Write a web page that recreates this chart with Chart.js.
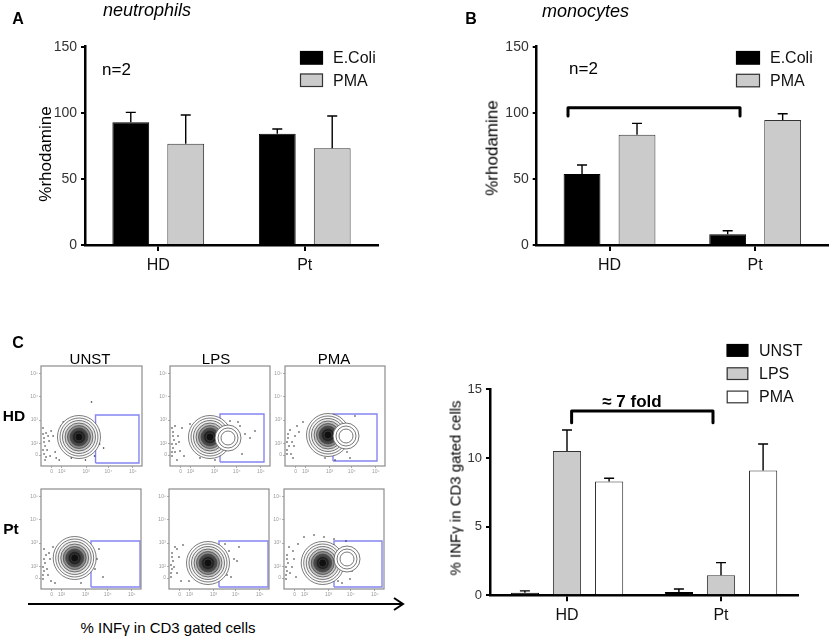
<!DOCTYPE html>
<html><head><meta charset="utf-8">
<script src="https://cdn.jsdelivr.net/npm/chart.js@4.4.1/dist/chart.umd.min.js"></script>
<style>
html,body{margin:0;padding:0;background:#fff;width:835px;height:641px;overflow:hidden;position:relative}
.w{position:absolute}
.t{position:absolute;white-space:nowrap;font-family:"Liberation Sans",Arial,sans-serif;color:#000;line-height:1}
.cc{transform:translate(-50%,-50%)}
.rot{transform:translate(-50%,-50%) rotate(-90deg)}
</style></head><body>
<div class="w" id="wA" style="left:0;top:0;width:420px;height:290px"><canvas id="cA"></canvas></div>
<div class="w" id="wB" style="left:420px;top:0;width:415px;height:290px"><canvas id="cB"></canvas></div>
<div class="w" id="wC" style="left:440px;top:300px;width:395px;height:341px"><canvas id="cC"></canvas></div>
<div id="flows"></div>

<div class="t cc" style="left:18px;top:19px;font-weight:bold;font-size:16px">A</div>
<div class="t" style="left:103px;top:1px;font-style:italic;font-size:18px">neutrophils</div>
<div class="t cc" style="left:471px;top:19px;font-weight:bold;font-size:16px">B</div>
<div class="t" style="left:542px;top:2px;font-style:italic;font-size:18px">monocytes</div>
<div class="t" style="left:102px;top:61px;font-size:17px">n=2</div>
<div class="t" style="left:569px;top:60px;font-size:17px">n=2</div>
<div class="t rot" style="left:45px;top:154px;font-size:17px">%rhodamine</div>
<div class="t rot" style="left:492px;top:148px;font-size:17px">%rhodamine</div>
<div class="t rot" style="left:455px;top:488px;font-size:15px">% INFγ in CD3 gated cells</div>
<div class="t cc" style="left:632px;top:401px;font-weight:bold;font-size:17px">≈ 7 fold</div>
<div class="t cc" style="left:18px;top:343px;font-weight:bold;font-size:16px">C</div>
<div class="t cc" style="left:90px;top:358px;font-size:15px">UNST</div>
<div class="t cc" style="left:216px;top:358px;font-size:15px">LPS</div>
<div class="t cc" style="left:334px;top:358px;font-size:15px">PMA</div>
<div class="t cc" style="left:14px;top:416px;font-weight:bold;font-size:15.5px">HD</div>
<div class="t cc" style="left:11px;top:529px;font-weight:bold;font-size:15.5px">Pt</div>
<div class="t cc" style="left:168px;top:627px;font-size:15px">% INFγ in CD3 gated cells</div>
<svg class="w" style="left:0;top:0" width="835" height="641">
  <line x1="28" y1="604" x2="402" y2="604" stroke="#000" stroke-width="2"/>
  <polyline points="394,598 403,604 394,610" fill="none" stroke="#000" stroke-width="2"/>
</svg>

<script>
// ---------- data ----------
const groups = ['HD', 'Pt'];
const rhodTicks = [0, 50, 100, 150];
const ifnTicks = [0, 5, 10, 15];

const neutEColi = [92.8, 84.2];
const neutEColiSD = [7.5, 3.5];
const neutPMA = [76.6, 73.1];
const neutPMASD = [21.7, 24.5];

const monoEColi = [53.7, 8.1];
const monoEColiSD = [6.8, 2.7];
const monoPMA = [83.4, 94.5];
const monoPMASD = [8.6, 4.8];

const ifnUNST = [0.19, 0.24];
const ifnUNSTSD = [0.13, 0.22];
const ifnLPS = [10.5, 1.46];
const ifnLPSSD = [1.54, 0.92];
const ifnPMA = [8.28, 9.08];
const ifnPMASD = [0.24, 1.94];

// flow cytometry panels: order HD-UNST, HD-LPS, HD-PMA, Pt-UNST, Pt-LPS, Pt-PMA
const flowTickPosX = [10.6, 20.5, 44.6, 66.7, 90.8];
const flowTickPosY = [11, 22.7, 46, 69.3, 92];
const flowTickLabels = ['0', '10²', '10³', '10⁴', '10⁵'];
const gates = [[54,97,3,51],[50,94,4,52],[48,92,5,52],[50,99,2,48],[50,99,2,48],[50,98,2,48]];
const cores = [[37.6,29],[40,29],[43,31],[33.7,31],[39,26],[38.7,26]];
const lobes = [null,[58,28],[61,30],null,null,[63,30]];
const dots = [
 [[3,12],[4,20],[3,28],[5,33],[2,38],[6,16],[8,25],[10,35],[12,30],[9,10],[4,6],[15,8],[56,30],[58,22],[57,36],[62,18],[50,64],[20,40],[2,16],[3,24],[2,32],[5,9],[7,30],[14,14],[18,6],[22,44],[30,8],[44,6],[53,10],[55,26]],
 [[2,10],[3,18],[4,26],[3,34],[5,40],[6,22],[8,30],[10,15],[12,38],[7,6],[60,45],[70,40],[75,32],[80,28],[65,20],[72,12],[85,35],[2,14],[2,22],[3,30],[2,38],[5,14],[9,24],[14,10],[20,42],[30,8],[45,6],[68,44]],
 [[2,12],[4,20],[3,28],[5,36],[7,24],[10,30],[12,40],[8,8],[55,45],[58,40],[62,14],[70,50],[65,8],[2,16],[2,24],[3,32],[6,12],[9,20],[14,34],[18,44],[40,8],[50,6],[68,20]],
 [[2,10],[3,18],[4,26],[5,34],[3,40],[7,14],[9,30],[12,42],[10,8],[56,30],[58,40],[54,20],[62,12],[2,14],[2,22],[3,30],[6,20],[8,36],[14,6],[20,46],[40,6],[50,26]],
 [[2,12],[3,20],[4,28],[3,36],[6,42],[8,16],[10,32],[12,8],[56,45],[60,38],[65,30],[58,20],[70,42],[62,12],[68,28],[2,16],[2,24],[3,32],[5,22],[8,40],[14,44],[20,8],[42,6],[58,14]],
 [[2,10],[3,18],[4,26],[3,34],[5,42],[8,22],[10,30],[14,45],[20,52],[30,54],[70,40],[68,18],[74,30],[62,48],[58,6],[2,14],[2,22],[3,30],[6,16],[9,38],[12,12],[40,52],[50,50],[54,8],[66,10]]
];

// ---------- styles / layout ----------
const F = '"Liberation Sans", Arial, sans-serif';
const ringRadii = [21.5, 19, 16.5, 14, 11.5, 9, 6.5, 4];
const ringFills = ['#ffffff','#f8f8f8','#e8e8e8','#c4c4c4','#8a8a8a','#484848','#222222','#101010'];
const lobeRadii = [13, 10, 7];
const flowBoxes = [[41,366,101,100],[170,366,100,100],[285,366,100,100],[41,489,100,100],[169,489,100,100],[284,489,100,100]];

const decoPlugin = {
  id: 'deco',
  afterDatasetsDraw(chart, args, o) {
    const ctx = chart.ctx;
    if (o.errors) {
      const ys = chart.scales.y;
      chart.data.datasets.forEach((ds, i) => {
        if (!ds.sd) return;
        chart.getDatasetMeta(i).data.forEach((bar, j) => {
          const top = ys.getPixelForValue(ds.data[j] + ds.sd[j]);
          ctx.save(); ctx.strokeStyle = '#000'; ctx.lineWidth = o.errors.lw;
          ctx.beginPath();
          ctx.moveTo(bar.x, bar.y); ctx.lineTo(bar.x, top);
          ctx.moveTo(bar.x - o.errors.cap, top); ctx.lineTo(bar.x + o.errors.cap, top);
          ctx.stroke(); ctx.restore();
        });
      });
    }
    if (o.bracket) {
      const b = o.bracket, xs = chart.scales.x, ys = chart.scales.y;
      const x0 = xs.getPixelForValue(b.x0), x1 = xs.getPixelForValue(b.x1);
      const y = ys.getPixelForValue(b.y), yd = ys.getPixelForValue(b.drop);
      ctx.save(); ctx.strokeStyle = '#000'; ctx.lineWidth = b.lw; ctx.lineJoin = 'round'; ctx.lineCap = 'round';
      ctx.beginPath(); ctx.moveTo(x0, yd); ctx.lineTo(x0, y); ctx.lineTo(x1, y); ctx.lineTo(x1, yd); ctx.stroke();
      ctx.restore();
    }
    if (o.legend) {
      const L = o.legend;
      chart.data.datasets.forEach((ds, i) => {
        const y = L.y + i * L.dy;
        ctx.save();
        ctx.fillStyle = ds.backgroundColor; ctx.fillRect(L.x, y, L.w, L.h);
        ctx.strokeStyle = ds.borderColor; ctx.lineWidth = 1.2;
        ctx.strokeRect(L.x + 0.5, y + 0.5, L.w - 1, L.h - 1);
        ctx.fillStyle = '#111'; ctx.font = L.font; ctx.textBaseline = 'middle';
        ctx.fillText(ds.label, L.tx, y + L.h / 2 + 1);
        ctx.restore();
      });
    }
    if (o.frame) {
      const a = chart.chartArea;
      ctx.save(); ctx.strokeStyle = o.frame.color; ctx.lineWidth = o.frame.lw;
      ctx.strokeRect(a.left, a.top, a.right - a.left, a.bottom - a.top); ctx.restore();
    }
  }
};

function barChart(id, sets, ymax, ticks, lay, deco, cp) {
  return new Chart(document.getElementById(id), {
    type: 'bar',
    data: { labels: groups, datasets: sets },
    options: {
      responsive: true, maintainAspectRatio: false, animation: false, events: [],
      categoryPercentage: cp, barPercentage: 0.67,
      layout: { autoPadding: false, padding: { left: 0, top: lay.top, right: lay.right, bottom: 0 } },
      plugins: { legend: { display: false }, tooltip: { enabled: false }, deco: deco },
      scales: {
        x: {
          grid: { drawOnChartArea: false, drawTicks: true, tickLength: 6, color: '#000', lineWidth: 2, offset: false },
          border: { color: '#000', width: 2.5 },
          ticks: { color: '#111', font: { family: F, size: 16 }, padding: 5 },
          afterFit: s => { s.height = lay.xh; s.paddingLeft = 0; s.paddingRight = 0; }
        },
        y: {
          min: 0, max: ymax,
          afterBuildTicks: s => { s.ticks = ticks.map(v => ({ value: v })); },
          grid: { drawOnChartArea: false, drawTicks: true, tickLength: 4, color: '#000', lineWidth: 2 },
          border: { color: '#000', width: 2.5 },
          ticks: { color: '#333', font: { family: F, size: lay.tf }, padding: 4 },
          afterFit: s => { s.width = lay.yw; s.paddingTop = 0; s.paddingBottom = 0; }
        }
      }
    },
    plugins: [decoPlugin]
  });
}

barChart('cA', [
  { label: 'E.Coli', data: neutEColi, sd: neutEColiSD, backgroundColor: '#000', borderColor: '#000', borderWidth: 1 },
  { label: 'PMA', data: neutPMA, sd: neutPMASD, backgroundColor: '#cbcbcb', borderColor: '#333', borderWidth: 1 }
], 150, rhodTicks, { top: 46.7, right: 42, xh: 45, yw: 85, tf: 14 },
{ errors: { lw: 1.4, cap: 5 }, legend: { x: 300, y: 51, dy: 22.5, w: 23, h: 13.5, tx: 333, font: '16px ' + F } }, 0.75);

barChart('cB', [
  { label: 'E.Coli', data: monoEColi, sd: monoEColiSD, backgroundColor: '#000', borderColor: '#000', borderWidth: 1 },
  { label: 'PMA', data: monoPMA, sd: monoPMASD, backgroundColor: '#cbcbcb', borderColor: '#333', borderWidth: 1 }
], 150, rhodTicks, { top: 46.7, right: 7, xh: 45, yw: 116.7, tf: 14 },
{ errors: { lw: 1.4, cap: 5 }, bracket: { x0: -0.285, x1: 0.896, y: 103.8, drop: 97.5, lw: 3 },
  legend: { x: 316, y: 51, dy: 22.8, w: 24, h: 13.5, tx: 350, font: '16px ' + F } }, 0.755);

barChart('cC', [
  { label: 'UNST', data: ifnUNST, sd: ifnUNSTSD, backgroundColor: '#000', borderColor: '#000', borderWidth: 1 },
  { label: 'LPS', data: ifnLPS, sd: ifnLPSSD, backgroundColor: '#cbcbcb', borderColor: '#333', borderWidth: 1 },
  { label: 'PMA', data: ifnPMA, sd: ifnPMASD, backgroundColor: '#fff', borderColor: '#333', borderWidth: 1 }
], 15, ifnTicks, { top: 89.3, right: 37, xh: 45.7, yw: 50, tf: 13 },
{ errors: { lw: 1.4, cap: 5 }, bracket: { x0: 0.03, x1: 0.948, y: 13.42, drop: 12.57, lw: 3 },
  legend: { x: 286.7, y: 44, dy: 23.3, w: 21.6, h: 12.7, tx: 319, font: '16px ' + F } }, 0.82);

// ---------- flow plots ----------
const flowHost = document.getElementById('flows');
flowBoxes.forEach((b, i) => {
  const YW = 11, XH = 10, PT = 2, PR = 2;
  const w = document.createElement('div');
  w.className = 'w';
  w.style.left = (b[0] - YW) + 'px'; w.style.top = (b[1] - PT) + 'px';
  w.style.width = (b[2] + YW + PR) + 'px'; w.style.height = (b[3] + PT + XH) + 'px';
  const cv = document.createElement('canvas');
  w.appendChild(cv); flowHost.appendChild(w);
  const g = gates[i], c = cores[i], lb = lobes[i];
  const sets = [];
  if (lb) sets.push({ type: 'bubble', data: lobeRadii.map(r => ({ x: lb[0], y: lb[1], r })),
    backgroundColor: '#fff', borderColor: '#555', borderWidth: 0.8, clip: 0 });
  sets.push({ type: 'bubble', data: ringRadii.map(r => ({ x: c[0], y: c[1], r })),
    backgroundColor: ringFills, borderColor: '#444', borderWidth: 0.7, clip: 0 });
  sets.push({ type: 'scatter', data: dots[i].map(p => ({ x: p[0], y: p[1] })),
    pointRadius: 0.8, backgroundColor: '#222', borderWidth: 0, clip: 0 });
  sets.push({ type: 'line', data: [[g[0],g[2]],[g[1],g[2]],[g[1],g[3]],[g[0],g[3]],[g[0],g[2]]].map(p => ({ x: p[0], y: p[1] })),
    borderColor: '#8585f2', borderWidth: 1.4, pointRadius: 0, fill: false, tension: 0 });
  new Chart(cv, {
    type: 'bubble',
    data: { datasets: sets },
    options: {
      responsive: true, maintainAspectRatio: false, animation: false, events: [],
      layout: { autoPadding: false, padding: { left: 0, top: PT, right: PR, bottom: 0 } },
      plugins: { legend: { display: false }, tooltip: { enabled: false }, deco: { frame: { color: '#8c8c8c', lw: 1.2 } } },
      scales: {
        x: { type: 'linear', min: 0, max: 100,
          afterBuildTicks: s => { s.ticks = flowTickPosX.map(v => ({ value: v })); },
          ticks: { callback: (v, k) => flowTickLabels[k], color: '#999', font: { family: F, size: 5 }, padding: 1, maxRotation: 0, autoSkip: false },
          grid: { drawOnChartArea: false, drawTicks: true, tickLength: 2, color: '#999', lineWidth: 0.8 },
          border: { display: false },
          afterFit: s => { s.height = XH; s.paddingLeft = 0; s.paddingRight = 0; } },
        y: { type: 'linear', min: 0, max: 100,
          afterBuildTicks: s => { s.ticks = flowTickPosY.map(v => ({ value: v })); },
          ticks: { callback: (v, k) => flowTickLabels[k], color: '#999', font: { family: F, size: 5 }, padding: 1, autoSkip: false },
          grid: { drawOnChartArea: false, drawTicks: true, tickLength: 2, color: '#999', lineWidth: 0.8 },
          border: { display: false },
          afterFit: s => { s.width = YW; s.paddingTop = 0; s.paddingBottom = 0; } }
      }
    },
    plugins: [decoPlugin]
  });
});
</script>
</body></html>
